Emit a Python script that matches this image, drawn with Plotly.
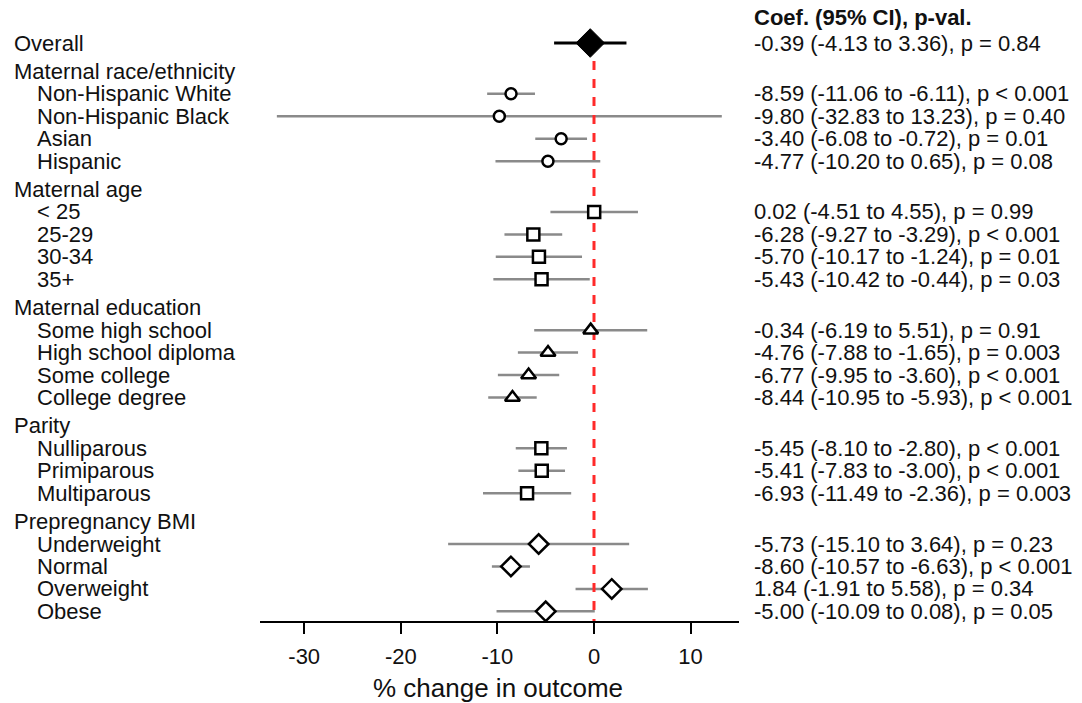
import plotly.graph_objects as go

# ---------------- data ----------------
overall_label = "Overall"
overall_coef = -0.39
overall_lo = -4.13
overall_hi = 3.36
overall_p = "= 0.84"

group_names = ["Maternal race/ethnicity", "Maternal age", "Maternal education",
               "Parity", "Prepregnancy BMI"]

race_labels = ["Non-Hispanic White", "Non-Hispanic Black", "Asian", "Hispanic"]
race_coef = [-8.59, -9.80, -3.40, -4.77]
race_lo = [-11.06, -32.83, -6.08, -10.20]
race_hi = [-6.11, 13.23, -0.72, 0.65]
race_p = ["< 0.001", "= 0.40", "= 0.01", "= 0.08"]

age_labels = ["< 25", "25-29", "30-34", "35+"]
age_coef = [0.02, -6.28, -5.70, -5.43]
age_lo = [-4.51, -9.27, -10.17, -10.42]
age_hi = [4.55, -3.29, -1.24, -0.44]
age_p = ["= 0.99", "< 0.001", "= 0.01", "= 0.03"]

edu_labels = ["Some high school", "High school diploma", "Some college", "College degree"]
edu_coef = [-0.34, -4.76, -6.77, -8.44]
edu_lo = [-6.19, -7.88, -9.95, -10.95]
edu_hi = [5.51, -1.65, -3.60, -5.93]
edu_p = ["= 0.91", "= 0.003", "< 0.001", "< 0.001"]

parity_labels = ["Nulliparous", "Primiparous", "Multiparous"]
parity_coef = [-5.45, -5.41, -6.93]
parity_lo = [-8.10, -7.83, -11.49]
parity_hi = [-2.80, -3.00, -2.36]
parity_p = ["< 0.001", "< 0.001", "= 0.003"]

bmi_labels = ["Underweight", "Normal", "Overweight", "Obese"]
bmi_coef = [-5.73, -8.60, 1.84, -5.00]
bmi_lo = [-15.10, -10.57, -1.91, -10.09]
bmi_hi = [3.64, -6.63, 5.58, 0.08]
bmi_p = ["= 0.23", "< 0.001", "= 0.34", "= 0.05"]

x_ticks = [-30, -20, -10, 0, 10]
x_title = "% change in outcome"
col_header = "Coef. (95% CI), p-val."

# ---------------- layout helpers ----------------
groups = [
    (race_labels, race_coef, race_lo, race_hi, race_p, "circle"),
    (age_labels, age_coef, age_lo, age_hi, age_p, "square"),
    (edu_labels, edu_coef, edu_lo, edu_hi, edu_p, "triangle-up"),
    (parity_labels, parity_coef, parity_lo, parity_hi, parity_p, "square"),
    (bmi_labels, bmi_coef, bmi_lo, bmi_hi, bmi_p, "diamond"),
]
marker_sizes = {"circle": 11, "square": 12, "triangle-up": 13, "diamond": 15}

FONT = "Liberation Sans, Arial, sans-serif"
TXT = "#111111"
FS = 22
W, H = 1082, 703
L_PX, R_PX = 260, 739
AXIS_PX = 621
TOP_ROW_PX = 43
UNIT = 22.68
HDR_GAP = 1.25
ITEM_GAP = 0.99

def px_to_paper_x(px):
    return (px - L_PX) / (R_PX - L_PX)

def fmt(v):
    return f"{v:.2f}"

fig = go.Figure()
annotations = []

def add_left(text, y, indent):
    annotations.append(dict(x=px_to_paper_x(35 if indent else 12), xref="paper",
                            y=y, yref="y", text=text, showarrow=False,
                            xanchor="left", yanchor="middle",
                            font=dict(family=FONT, size=FS, color=TXT)))

def add_right(text, y, bold=False):
    annotations.append(dict(x=px_to_paper_x(752), xref="paper",
                            y=y, yref="y", text=(f"<b>{text}</b>" if bold else text),
                            showarrow=False, xanchor="left", yanchor="middle",
                            font=dict(family=FONT, size=FS, color=TXT)))

# positions
pos = 0.0
add_left(overall_label, pos, False)
add_right(f"{fmt(overall_coef)} ({fmt(overall_lo)} to {fmt(overall_hi)}), p {overall_p}", pos)
overall_y = pos

ci_x, ci_y = [], []
marker_sets = []
for gname, (labs, coef, lo, hi, pv, sym) in zip(group_names, groups):
    pos += HDR_GAP
    add_left(gname, pos, False)
    ys = []
    for lab, c, a, b, p in zip(labs, coef, lo, hi, pv):
        pos += ITEM_GAP
        ys.append(pos)
        add_left(lab, pos, True)
        add_right(f"{fmt(c)} ({fmt(a)} to {fmt(b)}), p {p}", pos)
        ci_x += [a, b, None]
        ci_y += [pos, pos, None]
    marker_sets.append((coef, ys, sym))

add_right(col_header, -(TOP_ROW_PX - 17) / UNIT, bold=True)

# CI lines (gray)
fig.add_trace(go.Scatter(x=ci_x, y=ci_y, mode="lines",
                         line=dict(color="#8a8a8a", width=2.5), hoverinfo="skip"))
# overall CI line (black)
fig.add_trace(go.Scatter(x=[overall_lo, overall_hi], y=[overall_y, overall_y], mode="lines",
                         line=dict(color="black", width=3), hoverinfo="skip"))
# reference line at zero
y_bottom = (AXIS_PX - TOP_ROW_PX) / UNIT
fig.add_trace(go.Scatter(x=[0, 0], y=[overall_y, y_bottom], mode="lines",
                         line=dict(color="#ff2a2a", width=3, dash="dash"), hoverinfo="skip"))
# markers
for coef, ys, sym in marker_sets:
    fig.add_trace(go.Scatter(x=coef, y=ys, mode="markers",
                             marker=dict(symbol=sym, size=marker_sizes[sym], color="white",
                                         line=dict(color="black", width=2.5))))
fig.add_trace(go.Scatter(x=[overall_coef], y=[overall_y], mode="markers",
                         marker=dict(symbol="diamond", size=22, color="black",
                                     line=dict(color="black", width=1))))

# axis title
annotations.append(dict(x=px_to_paper_x(498), xref="paper", y=-(688 - AXIS_PX) / AXIS_PX,
                        yref="paper", text=x_title, showarrow=False,
                        xanchor="center", yanchor="middle",
                        font=dict(family=FONT, size=26, color=TXT)))

x_px_per_unit = 9.66
x_min = (L_PX - 594) / x_px_per_unit
x_max = (R_PX - 594) / x_px_per_unit

fig.update_layout(
    width=W, height=H,
    margin=dict(l=L_PX, r=W - R_PX, t=0, b=H - AXIS_PX, pad=0),
    plot_bgcolor="white", paper_bgcolor="white",
    showlegend=False,
    annotations=annotations,
    xaxis=dict(range=[x_min, x_max], tickvals=x_ticks, ticktext=[str(t) for t in x_ticks],
               showgrid=False, zeroline=False, showline=True, linecolor="black", linewidth=2,
               ticks="outside", ticklen=11, tickwidth=2, tickcolor="black",
               tickfont=dict(family=FONT, size=FS, color=TXT), ticklabelstandoff=4),
    yaxis=dict(range=[y_bottom, -TOP_ROW_PX / UNIT], visible=False, showgrid=False,
               zeroline=False),
)

fig.write_html("out.html", config={"displayModeBar": False},
               post_script="document.body.style.margin='0';document.body.style.padding='0';")
